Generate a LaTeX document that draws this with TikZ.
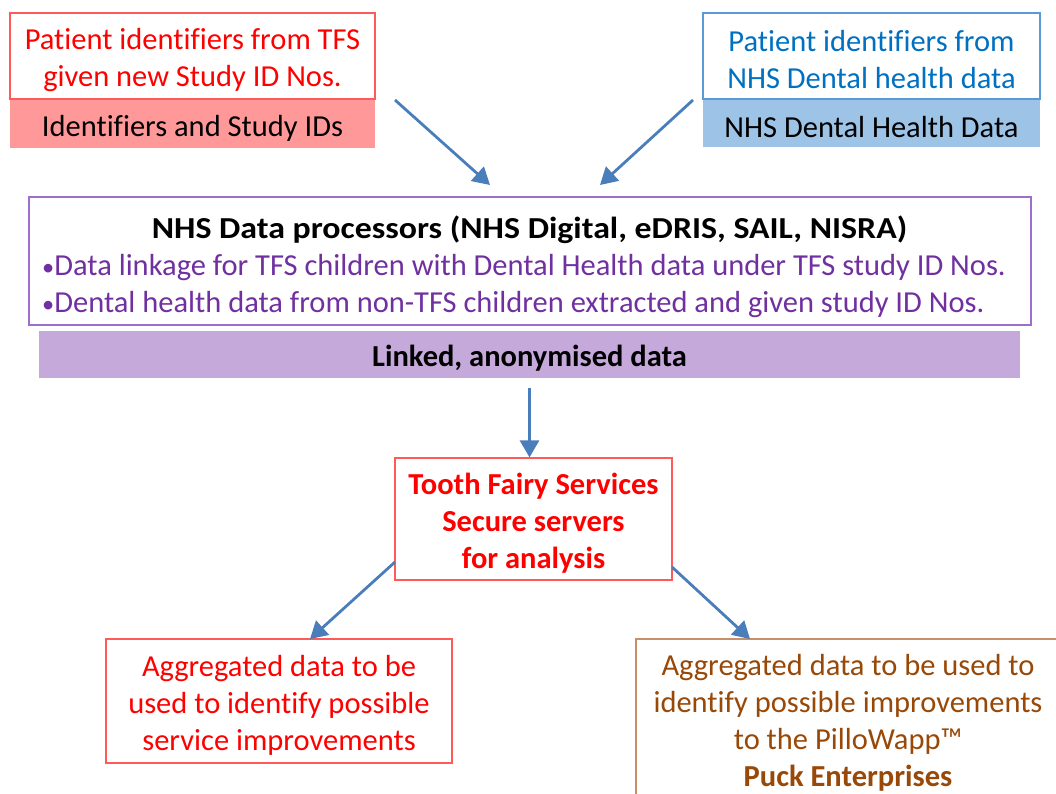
\documentclass[tikz,border=0pt]{standalone}
\usepackage{fontspec}
\setmainfont{Carlito}[Ligatures=CommonOff]
\usetikzlibrary{arrows.meta}
\definecolor{tred}{HTML}{FF0000}
\definecolor{redline}{HTML}{FF5A5A}
\definecolor{redfill}{HTML}{FF9999}
\definecolor{tblue}{HTML}{0070C0}
\definecolor{blueline}{HTML}{5B9BD5}
\definecolor{bluefill}{HTML}{9DC3E6}
\definecolor{tpurple}{HTML}{7030A0}
\definecolor{purpline}{HTML}{9B6FCB}
\definecolor{lavfill}{HTML}{C5A9DB}
\definecolor{tbrown}{HTML}{984807}
\definecolor{brownline}{HTML}{C8906A}
\definecolor{arrowc}{HTML}{4A7EBB}
\newcommand\tstrut{\rule{0pt}{29pt}}
\newcommand\smallbullet{\raisebox{0.5pt}{\scalebox{0.8}{•}}}
\tikzset{
  box/.style={draw, line width=1.2pt, rectangle, inner sep=0pt, align=center, font=\fontsize{30.5}{37}\selectfont},
  bar/.style={rectangle, inner sep=0pt, align=center, font=\fontsize{30.5}{37}\selectfont},
  conn/.style={draw=arrowc, line width=2.8pt, -{Triangle[length=17pt,width=19pt]}}
}
\begin{document}
\begin{tikzpicture}[x=1pt,y=-1pt]
\useasboundingbox (0,0) rectangle (1056,793);
% top-left
\node[box, draw=redline, text=tred, minimum width=365pt, minimum height=86pt] (a) at (192.5,56) {\tstrut Patient identifiers from TFS\\given new Study ID Nos.};
\node[bar, fill=redfill, minimum width=365pt, minimum height=48pt] (abar) at (192.5,124) {\tstrut Identifiers and Study IDs};
% top-right
\node[box, draw=blueline, text=tblue, minimum width=337pt, minimum height=86pt] (b) at (871.5,56) {\tstrut Patient identifiers from\\NHS Dental health data};
\node[bar, fill=bluefill, minimum width=337pt, minimum height=47pt] (bbar) at (871.5,123.5) {\tstrut NHS Dental Health Data};
% processors
\node[box, draw=purpline, minimum width=1002pt, minimum height=128pt] (p) at (530,261) {};
\node[font=\fontsize{30.5}{37}\selectfont\bfseries, inner sep=0pt] (ph) at (529.5,229.5) {\scalebox{1.11}[1]{NHS Data processors (NHS Digital, eDRIS, SAIL, NISRA)}};
\node[font=\fontsize{30.5}{37}\selectfont, text=tpurple, inner sep=0pt, anchor=base west] (p1) at (42,275.5) {\smallbullet Data linkage for TFS children with Dental Health data under TFS study ID Nos.};
\node[font=\fontsize{30.5}{37}\selectfont, text=tpurple, inner sep=0pt, anchor=base west] (p2) at (42,312.5) {\smallbullet Dental health data from non-TFS children extracted and given study ID Nos.};
\node[bar, fill=lavfill, minimum width=981pt, minimum height=47pt, font=\fontsize{30.5}{37}\selectfont\bfseries] (lav) at (529.5,354.5) {\tstrut Linked, anonymised data};
% TFS
\node[box, draw=redline, text=tred, minimum width=277pt, minimum height=122pt, font=\fontsize{30.5}{37}\selectfont\bfseries] (tfs) at (533.5,519) {\tstrut Tooth Fairy Services\\Secure servers\\for analysis};
% bottom
\node[box, draw=redline, text=tred, minimum width=346pt, minimum height=124pt] (l) at (279,701) {\tstrut Aggregated data to be\\used to identify possible\\service improvements};
\node[box, draw=brownline, text=tbrown, minimum width=424pt, minimum height=160pt] (r) at (848,719) {\tstrut Aggregated data to be used to\\identify possible improvements\\to the PilloWapp™\\\textbf{Puck Enterprises}};
% connectors
\coordinate (a1) at (395,100);
\coordinate (a2) at (490,185);
\coordinate (b1) at (693,100);
\coordinate (b2) at (600,185);
\coordinate (t1) at (395,562);
\coordinate (t2) at (672,567);
\coordinate (lt) at (310,639);
\coordinate (rt) at (750,639);
\draw[conn] (a1) -- (a2);
\draw[conn] (b1) -- (b2);
\draw[conn, shorten <=10pt] (lav.south) -- (lav.south |- tfs.north);
\draw[conn] (t1) -- (lt);
\draw[conn] (t2) -- (rt);
\end{tikzpicture}
\end{document}
